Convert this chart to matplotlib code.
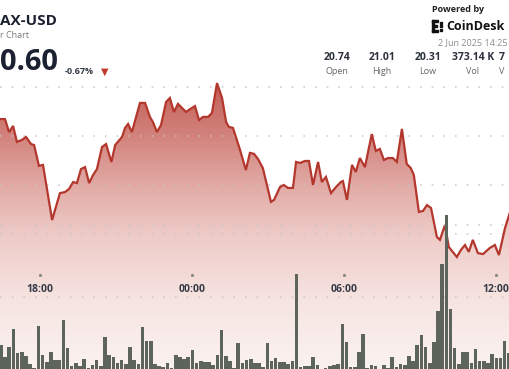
import numpy as np
import matplotlib.pyplot as plt
from matplotlib.colors import LinearSegmentedColormap
from matplotlib.patches import Polygon, Rectangle

# ---------------------------
# DATA
# ---------------------------

# price line: hour of day (24 = midnight 2 Jun) and price in USD
price_hours = [16.43, 16.63, 16.79, 16.95, 17.10, 17.30, 17.46, 17.66, 17.78, 17.97,
               18.13, 18.49, 18.80, 19.00, 19.16, 19.32, 19.47, 19.63, 19.79, 19.95,
               20.11, 20.26, 20.46, 20.62, 20.83, 20.98, 21.25, 21.37, 21.49, 21.64,
               21.96, 22.16, 22.35, 22.47, 22.63, 22.79, 22.99, 23.14, 23.30, 23.46,
               23.62, 23.78, 23.94, 24.13, 24.29, 24.45, 24.65, 24.80, 25.00, 25.20,
               25.36, 25.47, 25.63, 25.91, 26.14, 26.30, 26.46, 26.62, 26.81, 27.13,
               27.25, 27.49, 27.64, 27.80, 28.00, 28.12, 28.28, 28.47, 28.63, 28.79,
               28.99, 29.14, 29.30, 29.50, 29.70, 29.89, 29.97, 30.13, 30.33, 30.48,
               30.64, 30.84, 31.11, 31.27, 31.43, 31.59, 31.75, 31.94, 32.10, 32.30,
               32.49, 32.65, 32.77, 32.97, 33.13, 33.29, 33.45, 33.68, 33.80, 34.00,
               34.15, 34.47, 34.63, 34.79, 34.94, 35.10, 35.30, 35.50, 35.77, 35.97,
               36.13, 36.37, 36.57]
price = [20.869, 20.869, 20.816, 20.841, 20.776, 20.784, 20.796, 20.767, 20.763, 20.678,
         20.682, 20.457, 20.567, 20.571, 20.584, 20.612, 20.608, 20.665, 20.673, 20.608,
         20.641, 20.665, 20.755, 20.767, 20.694, 20.763, 20.796, 20.833, 20.849, 20.816,
         20.935, 20.935, 20.878, 20.857, 20.816, 20.845, 20.939, 20.955, 20.898, 20.931,
         20.914, 20.898, 20.910, 20.922, 20.865, 20.878, 20.878, 20.894, 21.016, 20.955,
         20.857, 20.837, 20.833, 20.743, 20.661, 20.731, 20.727, 20.706, 20.669, 20.531,
         20.539, 20.592, 20.600, 20.588, 20.588, 20.694, 20.690, 20.698, 20.698, 20.600,
         20.694, 20.612, 20.633, 20.567, 20.592, 20.612, 20.616, 20.539, 20.682, 20.653,
         20.710, 20.673, 20.808, 20.739, 20.747, 20.702, 20.710, 20.710, 20.694, 20.829,
         20.686, 20.669, 20.641, 20.490, 20.494, 20.518, 20.506, 20.388, 20.376, 20.437,
         20.347, 20.306, 20.335, 20.355, 20.327, 20.376, 20.322, 20.318, 20.343, 20.355,
         20.314, 20.424, 20.490]

# volume bars (thousands), evenly spaced from first to last bar time
volume_k = [3.3, 1.7, 3.0, 5.6, 2.2, 2.3, 1.8, 0.65, 0.1, 6.0,
            2.0, 1.0, 2.3, 1.25, 1.25, 6.8, 2.9, 0.4, 0.8, 0.4,
            1.35, 0.1, 0.55, 1.25, 0.4, 4.5, 1.95, 1.6, 0.9, 1.25,
            0.7, 3.1, 1.25, 0.65, 5.8, 3.9, 3.9, 0.65, 0.4, 0.3,
            0.8, 0.1, 1.95, 1.6, 1.4, 1.7, 2.7, 0.9, 1.15, 1.0,
            1.0, 0.55, 1.95, 5.4, 1.8, 1.1, 0.1, 3.6, 0.8, 1.25,
            1.4, 0.9,
            0.9, 0.3, 3.6, 1.1, 1.5, 1.0, 1.0, 0.7, 1.1, 13.2,
            0.3, 0.45, 0.45, 1.6, 0.55, 0.05, 0.1, 0.45, 0.55, 0.7,
            6.3, 3.7, 0.3, 0.3, 2.3, 4.8, 0.1, 0.55, 0.45, 0.05,
            0.55, 0.1, 1.7, 0.3, 0.7, 0.55, 1.8, 1.15, 3.4, 4.7,
            3.1, 0.8, 3.8, 8.0, 14.6, 21.4, 8.3, 2.9, 0.7, 2.3,
            2.4, 0.8, 2.8, 1.15, 1.1, 0.9, 2.1, 1.5, 1.5, 3.9, 2.2]
first_bar_hour, last_bar_hour = 16.47, 36.52

tick_hours = [18, 24, 30, 36]
tick_labels = ["18:00", "00:00", "06:00", "12:00"]
price_grid = [21.0, 20.8, 20.6, 20.4]
volume_grid = [10, 20]

stat_values = ["20.74", "21.01", "20.31", "373.14 K"]
stat_names = ["Open", "High", "Low", "Vol"]

# ---------------------------
# FIGURE
# ---------------------------

W, H = 510, 369
plt.rcParams['font.family'] = ['Open Sans', 'DejaVu Sans']
fig = plt.figure(figsize=(W / 100, H / 100), dpi=100)
fig.patch.set_facecolor("white")

x0, x1 = 16.433, 36.567
ax = fig.add_axes([0, 0, 1, 1])
ax.set_xlim(x0, x1)
ax.set_ylim(19.849, 21.355)
ax.axis("off")

# gradient under the price line
fill_cmap = LinearSegmentedColormap.from_list("fill", [
    (0.00, (250/255, 242/255, 240/255)),
    (0.24, (246/255, 228/255, 225/255)),
    (0.47, (238/255, 203/255, 199/255)),
    (0.64, (226/255, 170/255, 165/255)),
    (0.84, (208/255, 126/255, 119/255)),
    (1.00, (194/255, 95/255, 88/255)),
])
grad = np.linspace(0, 1, 256).reshape(-1, 1)
im = ax.imshow(grad, extent=[x0, x1, 19.849, max(price)], origin="lower",
               cmap=fill_cmap, aspect="auto", zorder=1)
verts = list(zip(price_hours, price)) + [(price_hours[-1], 19.849), (price_hours[0], 19.849)]
poly = Polygon(verts, closed=True, facecolor="none", edgecolor="none")
ax.add_patch(poly)
im.set_clip_path(poly)

dot = (0, (1, 6))
for g in price_grid:
    ax.axhline(g, color="#c4c4c4", lw=1.2, ls=dot, alpha=0.8, zorder=2)

ax.plot(price_hours, price, color="#b3372d", lw=1.6, zorder=3, solid_joinstyle="miter")

# volume axis on top
ax2 = fig.add_axes([0, 0, 1, 1], zorder=2)
ax2.set_xlim(x0, x1)
ax2.set_ylim(0, 51.25)
ax2.axis("off")
ax2.patch.set_alpha(0)
for g in volume_grid:
    ax2.axhline(g, color="#c4c4c4", lw=1.2, ls=dot, alpha=0.8, zorder=1)
bar_hours = np.linspace(first_bar_hour, last_bar_hour, len(volume_k))
step = bar_hours[1] - bar_hours[0]
ax2.bar(bar_hours, volume_k, width=step * 0.86, color="#5d645b", zorder=3)

# time ticks
for h, lab in zip(tick_hours, tick_labels):
    ax2.plot(h, 1 - 275 / H, marker="o", ms=1.3, color="#8a8a8a",
             transform=ax2.get_xaxis_transform(), clip_on=False)
    ax2.text(h, 1 - 290 / H, lab, transform=ax2.get_xaxis_transform(),
             ha="center", va="center", fontsize=7.5, fontweight="bold", color="#343a46")


def px(x, y):
    return x / W, 1 - y / H


# header, left
fig.text(*px(0, 21), "AX-USD", fontsize=11, fontweight="bold", color="#1b2130", va="center")
fig.text(*px(0, 36), "r Chart", fontsize=6.5, color="#7a7a7a", va="center")
fig.text(*px(0, 62), "0.60", fontsize=21, fontweight="bold", color="#1b2130", va="center")
fig.text(*px(65, 72), "-0.67%", fontsize=6.5, fontweight="bold", color="#333a45", va="center")
fig.text(*px(104.5, 72), "\u25BC", fontsize=7, color="#c0392b", va="center", ha="center",
         family="DejaVu Sans")

# header, right
fig.text(*px(432, 9), "Powered by", fontsize=6.5, fontweight="bold", color="#222", va="center")
for (rx, ry, rw, rh) in [(432, 20, 2.2, 12), (432, 20, 6, 1.8), (432, 30.2, 6, 1.8), (434, 25.2, 3.5, 1.6)]:
    fig.patches.append(Rectangle(px(rx, ry + rh), rw / W, rh / H, color="#111",
                                 transform=fig.transFigure, figure=fig))
for (rx, ry) in [(440, 22), (440, 25.5), (440, 29)]:
    fig.patches.append(Rectangle(px(rx, ry + 1.6), 1.6 / W, 1.6 / H, color="#111",
                                 transform=fig.transFigure, figure=fig))
fig.text(*px(446, 26), "CoinDesk", fontsize=9, fontweight="bold", color="#111", va="center")
fig.text(*px(508, 43), "2 Jun 2025 14:25", fontsize=6.5, color="#8c8c8c", va="center", ha="right")

stat_x = [337, 382, 428, 473]
for sx, v, n in zip(stat_x, stat_values, stat_names):
    fig.text(*px(sx, 57), v, fontsize=7.5, fontweight="bold", color="#2b303b", va="center", ha="center")
    fig.text(*px(sx, 71), n, fontsize=6.5, color="#666", va="center", ha="center")
fig.text(*px(499, 57), "7", fontsize=7.5, fontweight="bold", color="#2b303b", va="center")
fig.text(*px(499, 71), "V", fontsize=6.5, color="#666", va="center")

plt.savefig("out.png", dpi=100)
